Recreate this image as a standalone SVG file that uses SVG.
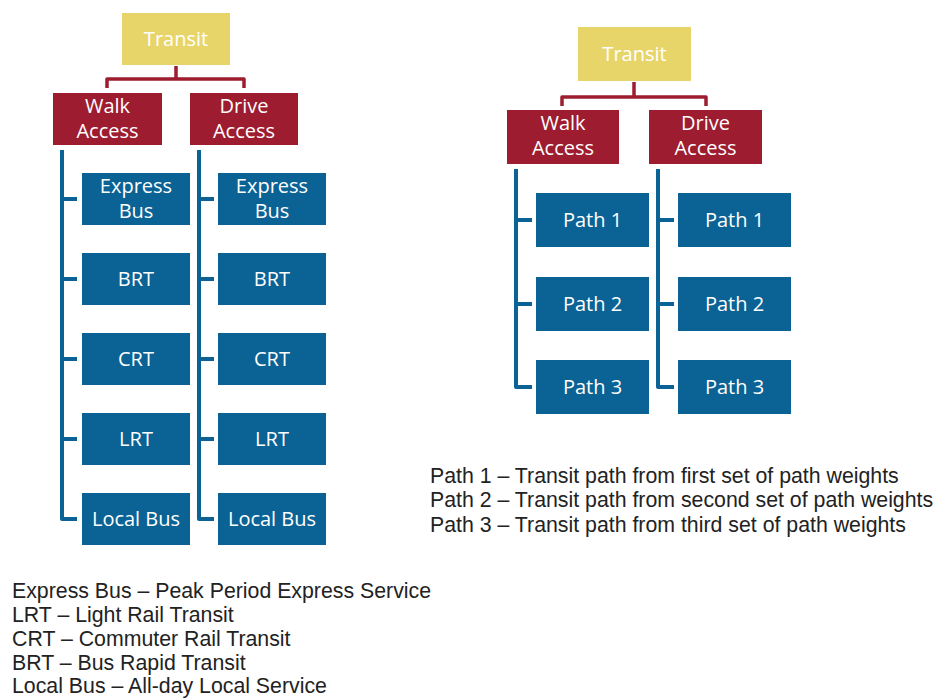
<svg xmlns="http://www.w3.org/2000/svg" width="938" height="698" viewBox="0 0 938 698">
<style>
.y{fill:#E8D56A}
.r{fill:#9D1C2F}
.b{fill:#0B6395}
.t{font-family:"Open Sans","Noto Sans",sans-serif;font-size:20px;fill:#fff;text-anchor:middle}
.lr{fill:none;stroke:#9D1C2F;stroke-width:3.5;stroke-linejoin:round}
.lb{fill:none;stroke:#0B6395;stroke-width:4;stroke-linejoin:round}
.lg{font-family:"Liberation Sans",Arial,sans-serif;font-size:21.3px;fill:#222}
</style>
<rect width="938" height="698" fill="#fff"/>
<g id="connectors">
<path class="lr" d="M176 66V79M107 88V79H244V88"/>
<path class="lb" d="M62 150V519H77M62 199H77M62 279H77M62 359H77M62 439H77"/>
<path class="lb" d="M199 150V519H214M199 199H214M199 279H214M199 359H214M199 439H214"/>
<path class="lr" d="M634 82V97M562 106V97H706V106"/>
<path class="lb" d="M516 169V387H532M516 220H532M516 304H532"/>
<path class="lb" d="M658 169V387H674M658 220H674M658 304H674"/>
</g>
<g id="L_transit"><rect class="y" x="122" y="13" width="108" height="52"/><text class="t" x="176" y="46">Transit</text></g>
<g id="L_walk"><rect class="r" x="53" y="93" width="109" height="52"/><text class="t" x="107.5" y="113">Walk</text><text class="t" x="107.5" y="138">Access</text></g>
<g id="L_drive"><rect class="r" x="190" y="93" width="108" height="52"/><text class="t" x="244" y="113">Drive</text><text class="t" x="244" y="138">Access</text></g>
<g id="L_w_express"><rect class="b" x="82" y="173" width="108" height="52"/><text class="t" x="136" y="193">Express</text><text class="t" x="136" y="218">Bus</text></g>
<g id="L_w_brt"><rect class="b" x="82" y="253" width="108" height="52"/><text class="t" x="136" y="286">BRT</text></g>
<g id="L_w_crt"><rect class="b" x="82" y="333" width="108" height="52"/><text class="t" x="136" y="366">CRT</text></g>
<g id="L_w_lrt"><rect class="b" x="82" y="413" width="108" height="52"/><text class="t" x="136" y="446">LRT</text></g>
<g id="L_w_local"><rect class="b" x="82" y="493" width="108" height="52"/><text class="t" x="136" y="526">Local Bus</text></g>
<g id="L_d_express"><rect class="b" x="218" y="173" width="108" height="52"/><text class="t" x="272" y="193">Express</text><text class="t" x="272" y="218">Bus</text></g>
<g id="L_d_brt"><rect class="b" x="218" y="253" width="108" height="52"/><text class="t" x="272" y="286">BRT</text></g>
<g id="L_d_crt"><rect class="b" x="218" y="333" width="108" height="52"/><text class="t" x="272" y="366">CRT</text></g>
<g id="L_d_lrt"><rect class="b" x="218" y="413" width="108" height="52"/><text class="t" x="272" y="446">LRT</text></g>
<g id="L_d_local"><rect class="b" x="218" y="493" width="108" height="52"/><text class="t" x="272" y="526">Local Bus</text></g>
<g id="R_transit"><rect class="y" x="578" y="27" width="113" height="54"/><text class="t" x="634.5" y="61">Transit</text></g>
<g id="R_walk"><rect class="r" x="507" y="110" width="112" height="54"/><text class="t" x="563" y="130">Walk</text><text class="t" x="563" y="155">Access</text></g>
<g id="R_drive"><rect class="r" x="649" y="110" width="113" height="54"/><text class="t" x="705.5" y="130">Drive</text><text class="t" x="705.5" y="155">Access</text></g>
<g id="R_w_p1"><rect class="b" x="536" y="193" width="113" height="54"/><text class="t" x="592.5" y="227">Path 1</text></g>
<g id="R_w_p2"><rect class="b" x="536" y="277" width="113" height="54"/><text class="t" x="592.5" y="311">Path 2</text></g>
<g id="R_w_p3"><rect class="b" x="536" y="360" width="113" height="54"/><text class="t" x="592.5" y="394">Path 3</text></g>
<g id="R_d_p1"><rect class="b" x="678" y="193" width="113" height="54"/><text class="t" x="734.5" y="227">Path 1</text></g>
<g id="R_d_p2"><rect class="b" x="678" y="277" width="113" height="54"/><text class="t" x="734.5" y="311">Path 2</text></g>
<g id="R_d_p3"><rect class="b" x="678" y="360" width="113" height="54"/><text class="t" x="734.5" y="394">Path 3</text></g>
<g id="legend_left" class="lg">
<text x="12" y="598">Express Bus – Peak Period Express Service</text>
<text x="12" y="622">LRT – Light Rail Transit</text>
<text x="12" y="646">CRT – Commuter Rail Transit</text>
<text x="12" y="670">BRT – Bus Rapid Transit</text>
<text x="12" y="693">Local Bus – All-day Local Service</text>
</g>
<g id="legend_right" class="lg">
<text x="430" y="483">Path 1 – Transit path from first set of path weights</text>
<text x="430" y="507">Path 2 – Transit path from second set of path weights</text>
<text x="430" y="532">Path 3 – Transit path from third set of path weights</text>
</g>
</svg>
